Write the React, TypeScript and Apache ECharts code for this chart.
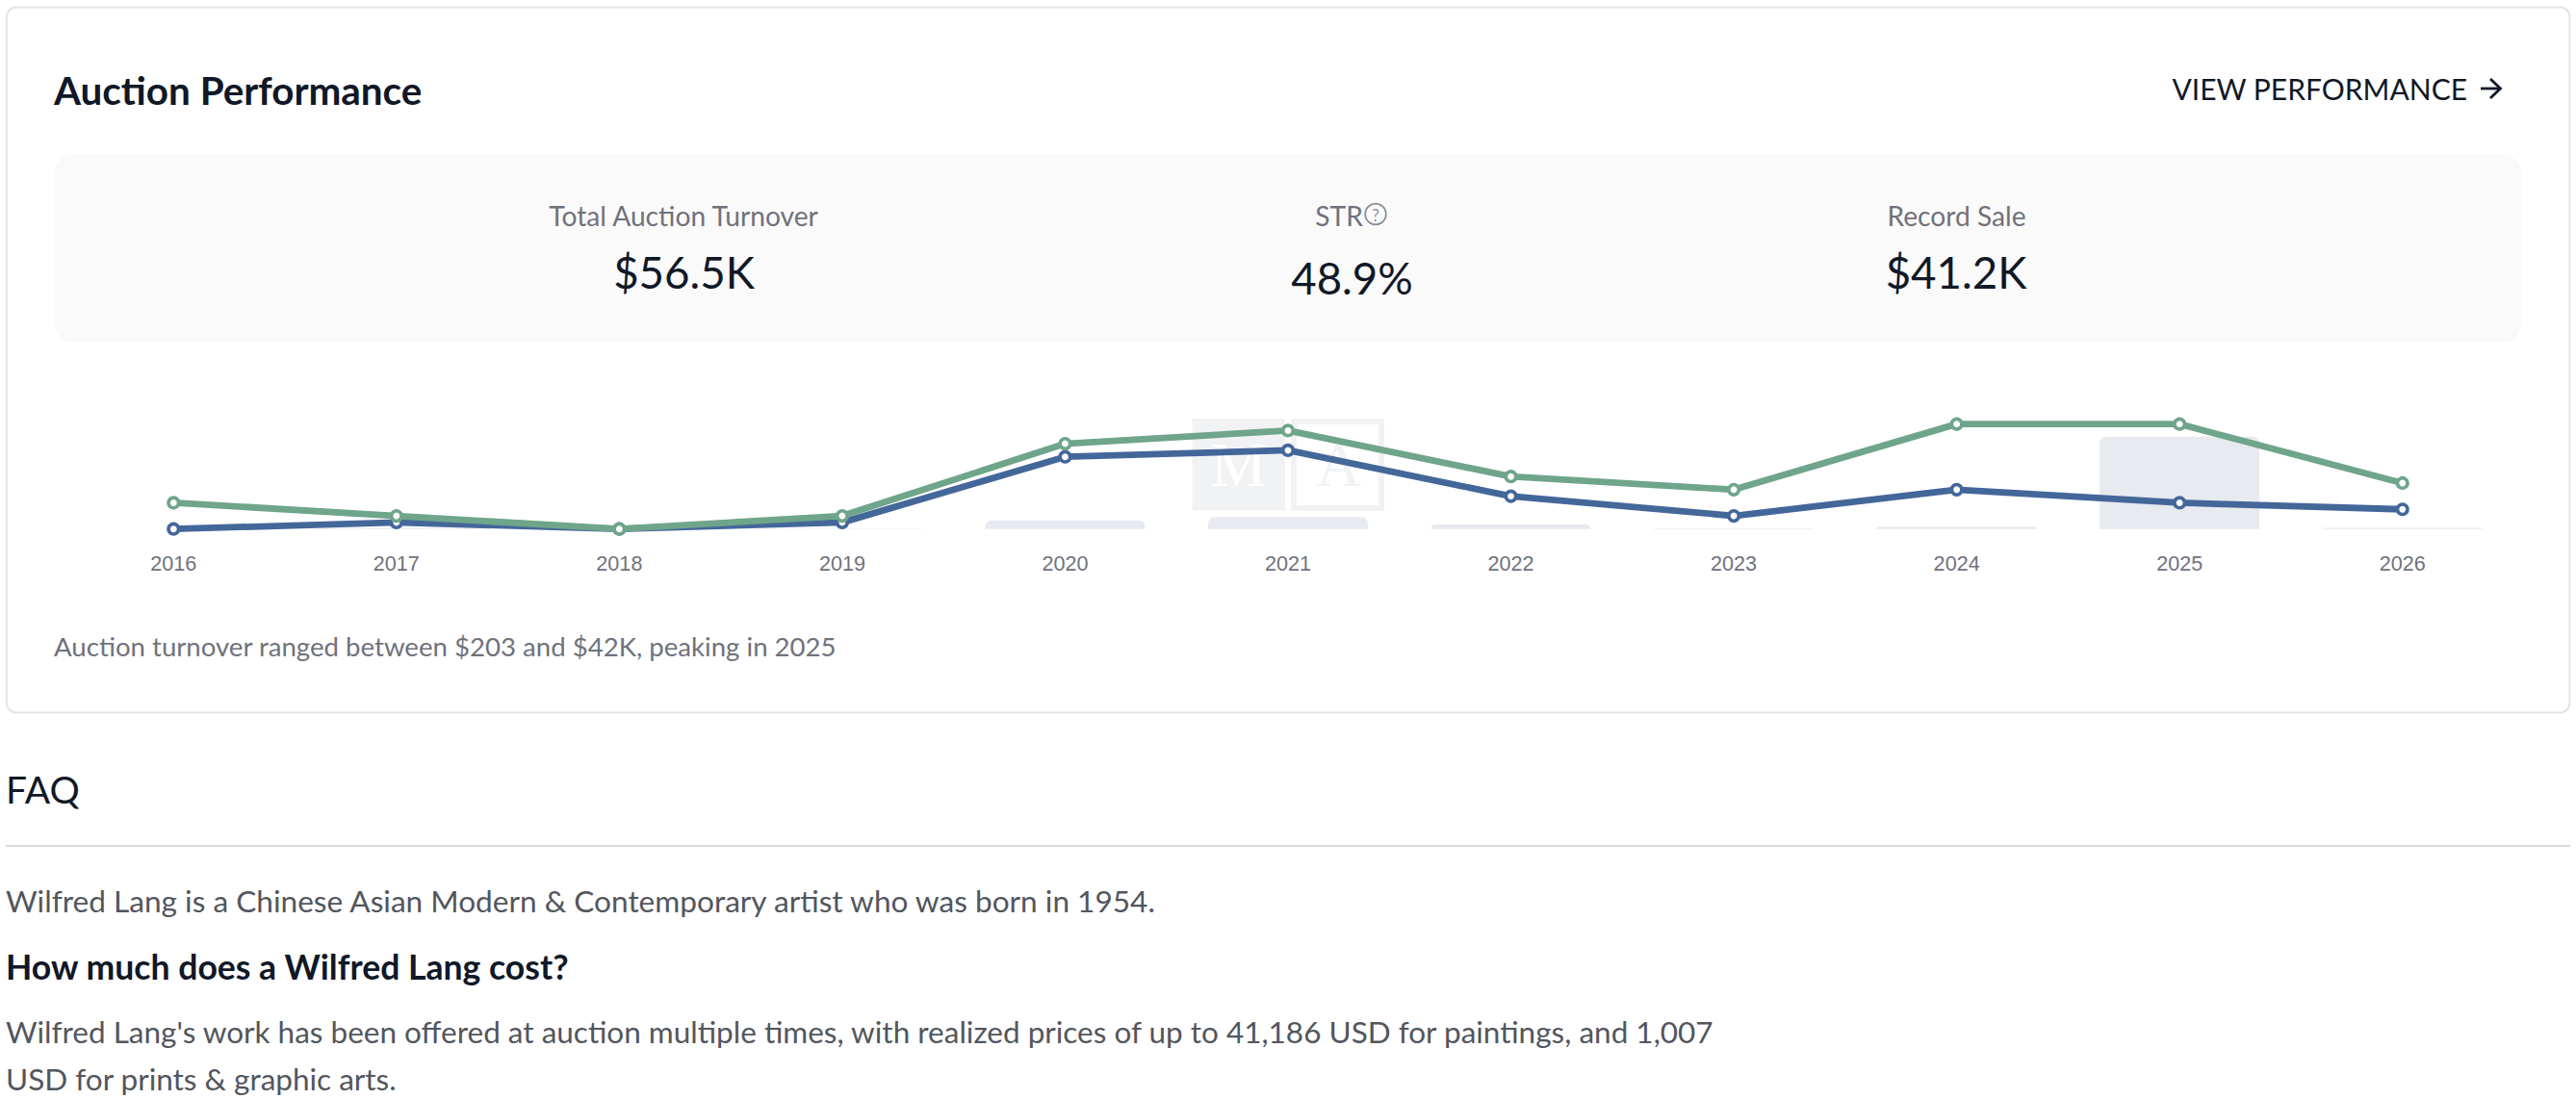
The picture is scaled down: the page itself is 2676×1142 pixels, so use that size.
import React, { useEffect, useRef } from "react";
import * as echarts from "echarts";

const W = 2676;
const H = 1142;

const years = ["2016", "2017", "2018", "2019", "2020", "2021", "2022", "2023", "2024", "2025", "2026"];
const lotsOffered = [4, 2, 0, 2, 13, 15, 8, 6, 16, 16, 7];
const lotsSold = [0, 1, 0, 1, 11, 12, 5, 2, 6, 4, 3];
const turnoverK = [0, 0.4, 0, 0.2, 3.9, 5.4, 2.1, 0.3, 1.1, 42, 0.5];

const DARK = "#111827";
const GREY = "#6f727c";
const BODY = "#52565e";
const LATO = "Lato, sans-serif";

function label(text: string, x: number, y: number, size: number, fill: string, opts: any = {}) {
  return {
    type: "text",
    x,
    y,
    silent: true,
    z: 1,
    style: {
      text,
      fill,
      font: `${opts.weight || 400} ${size}px ${opts.family || LATO}`,
      textAlign: opts.align || "left",
      textVerticalAlign: "middle",
    },
  };
}

function box(x: number, y: number, width: number, height: number, r: number, style: any, z = 0) {
  return { type: "rect", silent: true, z, shape: { x, y, width, height, r }, style };
}

export default function App() {
  const ref = useRef<HTMLDivElement>(null);

  useEffect(() => {
    const chart = echarts.init(ref.current!, undefined, { renderer: "svg" });
    const WM = "#f1f2f4";
    chart.setOption({
      animation: false,
      backgroundColor: "#ffffff",
      grid: { left: 64.5, right: W - 2611.5, top: 427, bottom: H - 549.7, containLabel: false },
      xAxis: {
        type: "category",
        data: years,
        boundaryGap: true,
        axisLine: { show: false },
        axisTick: { show: false },
        splitLine: { show: false },
        axisLabel: {
          color: GREY,
          fontFamily: "Liberation Sans, Arial, sans-serif",
          fontSize: 21.6,
          margin: 25,
          interval: 0,
        },
      },
      yAxis: [
        { type: "value", min: 0, max: 18, show: false },
        { type: "value", min: 0, max: 53.7, show: false },
      ],
      series: [
        {
          type: "bar",
          name: "Turnover",
          yAxisIndex: 1,
          data: turnoverK,
          barWidth: 166,
          z: 1,
          itemStyle: { color: "#e7eaef", borderRadius: [7, 7, 0, 0] },
        },
        {
          type: "line",
          name: "Lots sold",
          yAxisIndex: 0,
          data: lotsSold,
          clip: false,
          z: 3,
          symbol: "circle",
          symbolSize: 10.5,
          showSymbol: true,
          lineStyle: { color: "#44679a", width: 6.8 },
          itemStyle: { color: "#ffffff", borderColor: "#44679a", borderWidth: 3.6 },
        },
        {
          type: "line",
          name: "Lots offered",
          yAxisIndex: 0,
          data: lotsOffered,
          clip: false,
          z: 4,
          symbol: "circle",
          symbolSize: 10.5,
          showSymbol: true,
          lineStyle: { color: "#6fa58a", width: 6.8 },
          itemStyle: { color: "#ffffff", borderColor: "#6fa58a", borderWidth: 3.6 },
        },
      ],
      graphic: {
        elements: [
          box(7, 7.5, 2662.5, 733, 10, { fill: "#ffffff", stroke: "#e5e5e5", lineWidth: 2 }, -2),
          box(56.5, 160, 2562.5, 196, 20, { fill: "#fafafa" }, -1),
          label("Auction Performance", 56, 93, 40.4, DARK, { weight: 700 }),
          label("VIEW PERFORMANCE", 2563, 92, 30, DARK, { align: "right" }),
          {
            type: "polyline",
            silent: true,
            shape: { points: [[2577, 92], [2597, 92]] },
            style: { stroke: DARK, lineWidth: 2.8, fill: "none" },
          },
          {
            type: "polyline",
            silent: true,
            shape: { points: [[2587, 82], [2597.5, 92], [2587, 102]] },
            style: { stroke: DARK, lineWidth: 2.8, fill: "none" },
          },

          label("Total Auction Turnover", 710, 224, 28.2, GREY, { align: "center" }),
          label("$56.5K", 710.5, 282, 45.6, DARK, { align: "center" }),
          label("STR", 1391, 224, 28.2, GREY, { align: "center" }),
          {
            type: "circle",
            silent: true,
            shape: { cx: 1429, cy: 222.5, r: 10.8 },
            style: { fill: "none", stroke: "#8a8e98", lineWidth: 1.8 },
          },
          label("?", 1429, 223, 17, "#8a8e98", { align: "center" }),
          label("48.9%", 1404.5, 288, 45.6, DARK, { align: "center" }),
          label("Record Sale", 2032.5, 224, 28.2, GREY, { align: "center" }),
          label("$41.2K", 2032, 282, 45.6, DARK, { align: "center" }),

          // Watermark logo behind the plot
          box(1238.5, 435, 96.5, 95.5, 0, { fill: WM }, -1),
          box(1344, 438, 91, 90, 0, { fill: "none", stroke: WM, lineWidth: 6 }, -1),
          label("M", 1286.7, 483, 65, "#ffffff", { align: "center", family: "Liberation Serif, serif" }),
          label("A", 1390.7, 483, 65, WM, { align: "center", family: "Liberation Serif, serif" }),

          label("Auction turnover ranged between $203 and $42K, peaking in 2025", 56, 671.5, 27.6, GREY),

          label("FAQ", 6, 819.5, 39, DARK),
          {
            type: "line",
            silent: true,
            shape: { x1: 6, y1: 879, x2: 2670, y2: 879 },
            style: { stroke: "#d9d9dd", lineWidth: 2 },
          },
          label("Wilfred Lang is a Chinese Asian Modern & Contemporary artist who was born in 1954.", 6, 936, 31.6, BODY),
          label("How much does a Wilfred Lang cost?", 6, 1004.5, 35.6, DARK, { weight: 700 }),
          label(
            "Wilfred Lang's work has been offered at auction multiple times, with realized prices of up to 41,186 USD for paintings, and 1,007",
            6, 1072, 31.5, BODY
          ),
          label("USD for prints & graphic arts.", 6, 1121, 31.5, BODY),
        ],
      },
    });
    return () => chart.dispose();
  }, []);

  return <div ref={ref} style={{ position: "fixed", left: 0, top: 0, width: W, height: H }} />;
}
